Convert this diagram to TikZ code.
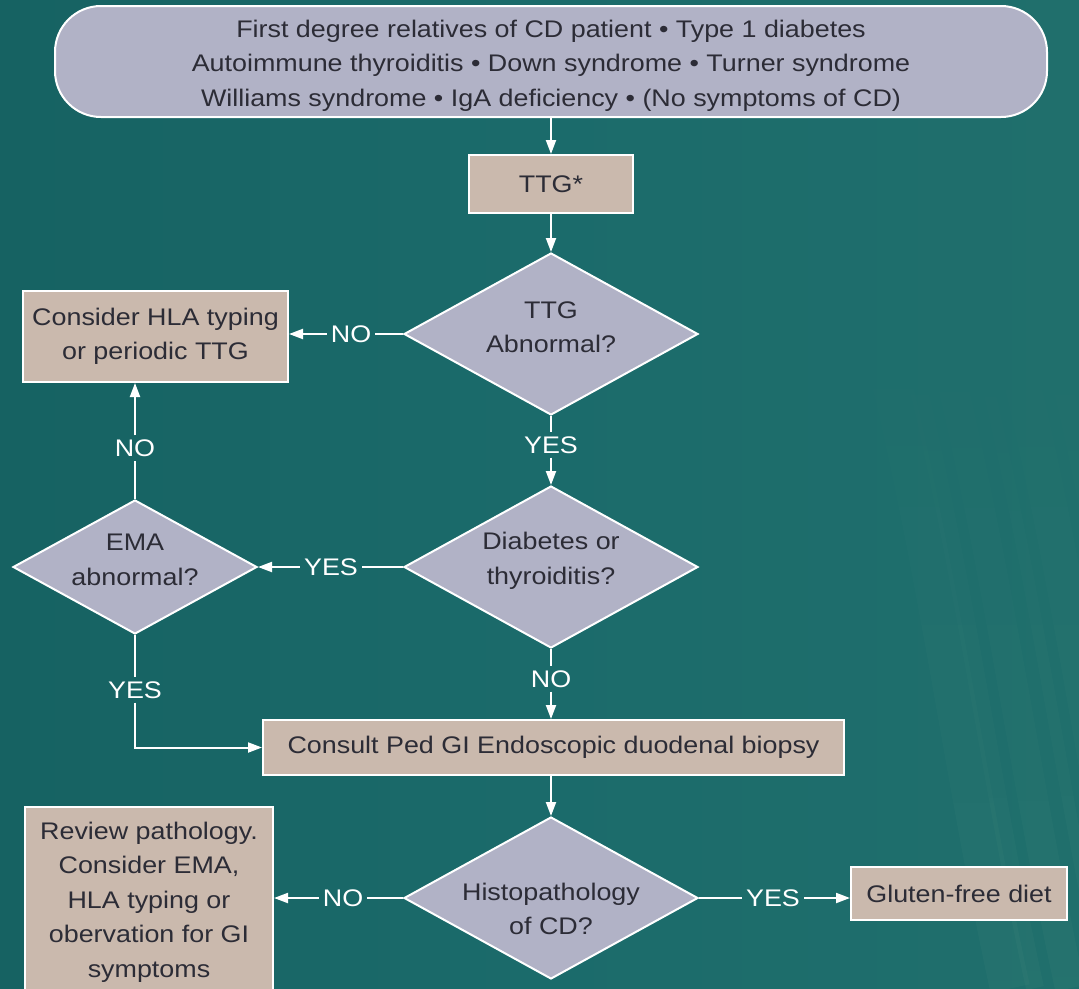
\documentclass[tikz,border=0pt]{standalone}
\usepackage{fontspec}
\setmainfont{Liberation Sans}[FakeStretch=1.12]
\usetikzlibrary{shapes.geometric,arrows.meta,fadings}

\definecolor{bgdark}{HTML}{166262}
\definecolor{bgmid}{HTML}{1B6B6B}
\definecolor{bglight}{HTML}{206F6C}
\definecolor{streak}{HTML}{8FC0A0}
\definecolor{lav}{HTML}{B1B2C6}
\definecolor{tan}{HTML}{CAB9AD}
\definecolor{ink}{HTML}{2C2C36}

\tikzset{
  txt/.style={font=\fontsize{24}{34.5}\selectfont},
  topbox/.style={txt, rectangle, rounded corners=46pt, draw=white, line width=2pt,
    fill=lav, text=ink, align=center, inner sep=0pt},
  procbox/.style={txt, rectangle, draw=white, line width=2pt, fill=tan, text=ink,
    align=center, inner sep=0pt},
  decision/.style={diamond, aspect=1.8, inner sep=0pt, draw=white, line width=2pt,
    fill=lav},
  dtext/.style={txt, text=ink, align=center, inner sep=0pt},
  lbl/.style={txt, text=white, inner sep=4pt},
  wire/.style={draw=white, line width=2pt},
  conn/.style={wire, -{Triangle[length=14pt,width=10pt]}},
}

\begin{document}
\begin{tikzpicture}[x=1pt,y=-1pt]
  % backdrop
  \useasboundingbox (0,0) rectangle (1079,988);
  \clip (0,0) rectangle (1079,988);
  \shade[left color=bgdark, right color=bglight, middle color=bgmid] (0,0) rectangle (1079,988);
  % soft light streaks on the right, fading out towards the top
  \foreach \dx/\w in {0/40, 25/18, 60/30, 95/12, 130/36, 170/20, 210/28}{
    \draw[streak, opacity=0.05, line width=\w pt, path fading=north]
      (860+\dx,260) .. controls (930+\dx,500) and (960+\dx,760) .. (1010+\dx,988);
  }

  % boxes and decisions
  \node[topbox, minimum width=992pt, minimum height=111pt] (risk) at (551,61.5)
    {\rule{0pt}{25pt}First degree relatives of CD patient • Type 1 diabetes\\
     Autoimmune thyroiditis • Down syndrome • Turner syndrome\\
     Williams syndrome • IgA deficiency • (No symptoms of CD)};
  \node[procbox, minimum width=164pt, minimum height=58pt] (ttg) at (551,184) {TTG*};
  \node[decision, minimum width=294pt, minimum height=162pt] (d1) at (551,334) {};
  \node[dtext] (d1t) at (551,327) {TTG\\Abnormal?};
  \node[procbox, minimum width=265pt, minimum height=91pt] (hla) at (155.5,336.5)
    {Consider HLA typing\\or periodic TTG};
  \node[decision, minimum width=294pt, minimum height=162pt] (d2) at (551,567) {};
  \node[dtext] (d2t) at (551,561) {Diabetes or\\thyroiditis?};
  \node[decision, minimum width=244pt, minimum height=134pt] (ema) at (135,567) {};
  \node[dtext] (emat) at (135,560) {EMA\\abnormal?};
  \node[procbox, minimum width=581pt, minimum height=55pt] (biopsy) at (553.5,747.5)
    {Consult Ped GI Endoscopic duodenal biopsy};
  \node[decision, minimum width=294pt, minimum height=162pt] (d3) at (551,898) {};
  \node[dtext] (d3t) at (551,909) {Histopathology\\of CD?};
  \node[procbox, minimum width=248pt, minimum height=190pt] (review) at (149,902)
    {Review pathology.\\Consider EMA,\\HLA typing or\\obervation for GI\\symptoms};
  \node[procbox, minimum width=216pt, minimum height=53pt] (gfd) at (959,893.5)
    {Gluten-free diet};

  % branch labels
  \node[lbl] (n1) at (351,334) {NO};
  \node[lbl] (y1) at (551,445) {YES};
  \node[lbl] (y2) at (331,567) {YES};
  \node[lbl] (n2) at (135,448) {NO};
  \node[lbl] (y3) at (135,690) {YES};
  \node[lbl] (n3) at (551,679) {NO};
  \node[lbl] (n4) at (343,898) {NO};
  \node[lbl] (y4) at (773,898) {YES};

  % connectors
  \draw[conn] (risk.south) -- (ttg.north);
  \draw[conn] (ttg.south) -- (d1.north);
  \draw[wire] (d1.west) -- (n1.east);
  \draw[conn] (n1.west) -- (n1.west -| hla.east);
  \draw[wire] (d1.south) -- (y1.north);
  \draw[conn] (y1.south) -- (d2.north);
  \draw[wire] (d2.west) -- (y2.east);
  \draw[conn] (y2.west) -- (ema.east);
  \draw[wire] (ema.north) -- (n2.south);
  \draw[conn] (n2.north) -- (n2.north |- hla.south);
  \draw[wire] (ema.south) -- (y3.north);
  \draw[conn] (y3.south) |- (biopsy.west);
  \draw[wire] (d2.south) -- (n3.north);
  \draw[conn] (n3.south) -- (n3.south |- biopsy.north);
  \draw[conn] (d3.north |- biopsy.south) -- (d3.north);
  \draw[wire] (d3.west) -- (n4.east);
  \draw[conn] (n4.west) -- (n4.west -| review.east);
  \draw[wire] (d3.east) -- (y4.west);
  \draw[conn] (y4.east) -- (y4.east -| gfd.west);
\end{tikzpicture}
\end{document}
